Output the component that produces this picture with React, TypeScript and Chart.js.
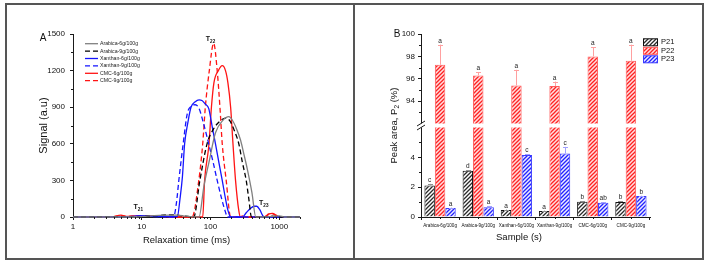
import React, { useEffect, useRef } from 'react';
import { Chart, registerables, LinearScale } from 'chart.js';

Chart.register(...registerables);

const FONT = "'Liberation Sans', Arial, Helvetica, sans-serif";
const AXIS = '#1a1a1a';

/* ---------------- Panel A: T2 relaxation spectra ---------------- */
const arabica6T = [1, 8, 12, 18, 25, 32, 40, 50, 60, 68, 80, 95, 118, 150, 185, 207, 240, 273, 310, 345, 400, 455, 600, 800, 1000, 1200, 2000];
const arabica6S = [0, 0, 8, 14, 16, 15, 10, 3, 0, 0, 250, 450, 690, 790, 822, 795, 720, 631, 500, 385, 200, 0, 0, 5, 10, 0, 0];

const arabica9T = [1, 8, 12, 18, 25, 32, 40, 50, 57, 70, 89, 110, 140, 165, 190, 225, 258, 290, 330, 360, 394, 600, 800, 1000, 2000];
const arabica9S = [0, 0, 6, 12, 18, 15, 8, 2, 0, 300, 600, 720, 790, 810, 790, 700, 600, 450, 300, 150, 0, 0, 6, 0, 0];

const xanthan6T = [1, 6, 8, 10, 12, 15, 20, 30, 33, 36, 39, 42, 47, 52, 60, 68, 75, 84, 94, 105, 118, 133, 148, 165, 180, 196, 290, 330, 380, 430, 470, 520, 570, 600, 2000];
const xanthan6S = [0, 0, 8, 12, 10, 5, 3, 2, 5, 150, 330, 600, 780, 900, 945, 960, 955, 925, 890, 750, 600, 440, 300, 150, 50, 0, 0, 35, 70, 88, 88, 60, 15, 0, 0];

const xanthan9T = [1, 6, 10, 15, 20, 29, 32, 34.6, 40, 46, 53, 60, 68, 78, 94, 110, 125, 145, 165, 176, 2000];
const xanthan9S = [0, 0, 5, 4, 3, 0, 120, 300, 600, 850, 910, 920, 890, 780, 600, 440, 300, 150, 40, 0, 0];

const cmc6T = [1, 3.5, 5, 6, 8, 10, 15, 20, 30, 60, 77, 82, 95, 103, 112, 130, 148, 165, 179, 196, 212, 231, 258, 273, 290, 310, 600, 700, 800, 900, 1000, 2000];
const cmc6S = [0, 0, 15, 5, 10, 10, 8, 5, 0, 0, 0, 300, 600, 900, 1100, 1200, 1240, 1200, 1100, 900, 600, 300, 50, 0, 10, 0, 0, 25, 30, 15, 0, 0];

const cmc9T = [1, 3.5, 5, 6, 8, 10, 15, 20, 30, 54, 67.5, 77, 84, 96, 111, 125, 137, 148, 169, 196, 600, 700, 800, 900, 1000, 2000];
const cmc9S = [0, 0, 12, 5, 8, 10, 8, 5, 0, 0, 300, 600, 900, 1200, 1424, 1200, 900, 600, 300, 0, 0, 20, 25, 10, 0, 0];

const relaxTicks = [1, 10, 100, 1000];
const signalTicks = [0, 300, 600, 900, 1200, 1500];
const signalMinor = [150, 450, 750, 1050, 1350];

const spectra = [
  { label: 'Arabica-6g/100g', t: arabica6T, s: arabica6S, color: '#808080', dash: [] as number[] },
  { label: 'Arabica-9g/100g', t: arabica9T, s: arabica9S, color: '#000000', dash: [5, 3] },
  { label: 'Xanthan-6g/100g', t: xanthan6T, s: xanthan6S, color: '#1414ff', dash: [] as number[] },
  { label: 'Xanthan-9g/100g', t: xanthan9T, s: xanthan9S, color: '#1414ff', dash: [5, 3] },
  { label: 'CMC-6g/100g', t: cmc6T, s: cmc6S, color: '#ff1414', dash: [] as number[] },
  { label: 'CMC-9g/100g', t: cmc9T, s: cmc9S, color: '#ff1414', dash: [5, 3] },
];

// peak annotations in data coordinates (relaxation time, signal)
const peakNames = ['21', '22', '23'];
const peakTimes = [8.9, 100, 594];
const peakSignals = [82, 1460, 115];

/* ---------------- Panel B: peak areas ---------------- */
const samples = ['Arabica-6g/100g', 'Arabica-9g/100g', 'Xanthan-6g/100g', 'Xanthan-9g/100g', 'CMC-6g/100g', 'CMC-9g/100g'];
const p21 = [2.12, 3.1, 0.47, 0.4, 1.03, 1.0];
const p22 = [97.25, 96.3, 95.4, 95.35, 98.0, 97.6];
const p23 = [0.6, 0.66, 4.15, 4.25, 0.95, 1.4];
const p21Err = [0.1, 0.05, 0.03, 0.03, 0.03, 0.05];
const p22Err = [1.8, 0.3, 1.4, 0.4, 0.8, 1.45];
const p23Err = [0.03, 0.08, 0.05, 0.45, 0.03, 0.03];
const p21Letters = ['c', 'd', 'a', 'a', 'b', 'b'];
const p22Letters = ['a', 'a', 'a', 'a', 'a', 'a'];
const p23Letters = ['a', 'a', 'c', 'c', 'ab', 'b'];
const peakTicks = [0, 2, 4, 94, 96, 98, 100];
const peakMinor = [1, 3, 5, 93, 95, 97, 99];
const breakLow = 6;
const breakHigh = 92;
const gapPx = 4;

// Linear scale with a break between breakLow and breakHigh; both halves get equal height.
class BrokenLinearScale extends LinearScale {
  static id = 'brokenLinear';
  getPixelForValue(value: number) {
    const seg = (this.bottom - this.top - gapPx) / 2;
    if (value <= breakLow) return this.bottom - ((value - this.min) / (breakLow - this.min)) * seg;
    if (value >= breakHigh) return this.top + ((this.max - value) / (this.max - breakHigh)) * seg;
    const lowTop = this.bottom - seg;
    return lowTop - ((value - breakLow) / (breakHigh - breakLow)) * gapPx;
  }
  getValueForPixel(pixel: number) {
    const seg = (this.bottom - this.top - gapPx) / 2;
    const lowTop = this.bottom - seg;
    const highBottom = this.top + seg;
    if (pixel >= lowTop) return this.min + ((this.bottom - pixel) / seg) * (breakLow - this.min);
    if (pixel <= highBottom) return this.max - ((pixel - this.top) / seg) * (this.max - breakHigh);
    return breakLow + ((lowTop - pixel) / gapPx) * (breakHigh - breakLow);
  }
}
Chart.register(BrokenLinearScale);

function hatch(bg: string, fg: string) {
  const c = document.createElement('canvas');
  c.width = 4;
  c.height = 4;
  const g = c.getContext('2d')!;
  g.fillStyle = bg;
  g.fillRect(0, 0, 4, 4);
  g.strokeStyle = fg;
  g.lineWidth = 1.3;
  g.beginPath();
  g.moveTo(0, 4);
  g.lineTo(4, 0);
  g.moveTo(-1, 1);
  g.lineTo(1, -1);
  g.moveTo(3, 5);
  g.lineTo(5, 3);
  g.stroke();
  return g.createPattern(c, 'repeat')!;
}

const panelAExtras = {
  id: 'panelAExtras',
  afterDraw(chart: any) {
    const { ctx, chartArea: ca, scales } = chart;
    const x = scales.x;
    const y = scales.y;
    ctx.save();
    // minor ticks
    ctx.strokeStyle = AXIS;
    ctx.lineWidth = 1;
    ctx.beginPath();
    for (const v of signalMinor) {
      const py = Math.round(y.getPixelForValue(v)) + 0.5;
      ctx.moveTo(ca.left, py);
      ctx.lineTo(ca.left - 2, py);
    }
    for (let d = 1; d < 2000; d *= 10) {
      for (let k = 2; k <= 9; k++) {
        const v = d * k;
        if (v > 2000) break;
        const px = Math.round(x.getPixelForValue(v)) + 0.5;
        ctx.moveTo(px, ca.bottom);
        ctx.lineTo(px, ca.bottom + 2);
      }
    }
    ctx.stroke();

    // legend
    const lx0 = ca.left + 12;
    const lx1 = lx0 + 13;
    chart.data.datasets.forEach((ds: any, i: number) => {
      const ly = ca.top + 9.7 + i * 7.4;
      ctx.strokeStyle = ds.borderColor;
      ctx.lineWidth = 1.3;
      ctx.setLineDash(ds.borderDash || []);
      ctx.beginPath();
      ctx.moveTo(lx0, ly);
      ctx.lineTo(lx1, ly);
      ctx.stroke();
      ctx.setLineDash([]);
      ctx.fillStyle = '#222';
      ctx.font = `5.2px ${FONT}`;
      ctx.textAlign = 'left';
      ctx.textBaseline = 'middle';
      ctx.fillText(ds.label, lx1 + 2, ly);
    });

    // peak annotations
    peakNames.forEach((sub, i) => {
      const px = x.getPixelForValue(peakTimes[i]);
      const py = y.getPixelForValue(peakSignals[i]);
      ctx.font = `bold 7px ${FONT}`;
      const wT = ctx.measureText('T').width;
      ctx.font = `bold 4.6px ${FONT}`;
      const wS = ctx.measureText(sub).width;
      const x0 = px - (wT + wS) / 2;
      ctx.fillStyle = '#111';
      ctx.textAlign = 'left';
      ctx.textBaseline = 'alphabetic';
      ctx.font = `bold 7px ${FONT}`;
      ctx.fillText('T', x0, py + 2.5);
      ctx.font = `bold 4.6px ${FONT}`;
      ctx.fillText(sub, x0 + wT, py + 4);
    });

    // panel letter
    ctx.fillStyle = '#111';
    ctx.font = `10px ${FONT}`;
    ctx.textAlign = 'center';
    ctx.textBaseline = 'middle';
    ctx.fillText('A', ca.left - 30, ca.top + 4);
    ctx.restore();
  },
};

const panelBExtras = {
  id: 'panelBExtras',
  afterDatasetsDraw(chart: any) {
    const { ctx, chartArea: ca, scales } = chart;
    const y = scales.y;
    const yLow = y.getPixelForValue(breakLow);
    const yHigh = y.getPixelForValue(breakHigh);
    ctx.save();
    // axis break
    ctx.fillStyle = '#fff';
    ctx.fillRect(ca.left - 1, yHigh, ca.right - ca.left + 2, yLow - yHigh);
    const ym = (yLow + yHigh) / 2;
    ctx.strokeStyle = AXIS;
    ctx.lineWidth = 1;
    ctx.beginPath();
    for (const dy of [-2, 2]) {
      ctx.moveTo(ca.left - 4, ym + dy + 2.5);
      ctx.lineTo(ca.left + 4, ym + dy - 2.5);
    }
    ctx.stroke();

    // error bars and significance letters
    const groups = [
      { values: p21, errs: p21Err, marks: p21Letters, errColor: '#8f8f8f' },
      { values: p22, errs: p22Err, marks: p22Letters, errColor: '#ffa0a0' },
      { values: p23, errs: p23Err, marks: p23Letters, errColor: '#a0a0ff' },
    ];
    groups.forEach((g, di) => {
      const meta = chart.getDatasetMeta(di);
      meta.data.forEach((bar: any, j: number) => {
        const top = y.getPixelForValue(g.values[j] + g.errs[j]);
        const bx = Math.round(bar.x) + 0.5;
        ctx.strokeStyle = g.errColor;
        ctx.lineWidth = 1;
        ctx.beginPath();
        ctx.moveTo(bx, bar.y);
        ctx.lineTo(bx, top);
        ctx.moveTo(bx - 2.5, Math.round(top) + 0.5);
        ctx.lineTo(bx + 2.5, Math.round(top) + 0.5);
        ctx.stroke();
        ctx.fillStyle = '#222';
        ctx.font = `6.5px ${FONT}`;
        ctx.textAlign = 'center';
        ctx.textBaseline = 'alphabetic';
        ctx.fillText(g.marks[j], bar.x, top - 2);
      });
    });
    ctx.restore();
  },
  afterDraw(chart: any) {
    const { ctx, chartArea: ca, scales } = chart;
    const y = scales.y;
    const x = scales.x;
    ctx.save();
    // minor ticks
    ctx.strokeStyle = AXIS;
    ctx.lineWidth = 1;
    ctx.beginPath();
    for (const v of peakMinor) {
      const py = Math.round(y.getPixelForValue(v)) + 0.5;
      ctx.moveTo(ca.left, py);
      ctx.lineTo(ca.left - 2, py);
    }
    for (let i = 0; i < samples.length; i++) {
      const px = Math.round(x.getPixelForValue(i)) + 0.5;
      ctx.moveTo(px, ca.bottom);
      ctx.lineTo(px, ca.bottom + 2);
    }
    ctx.stroke();

    // legend
    chart.data.datasets.forEach((ds: any, i: number) => {
      const ly = ca.top + 8.3 + i * 8.5;
      const bx = ca.right - 7;
      ctx.fillStyle = ds.backgroundColor;
      ctx.fillRect(bx, ly - 3.5, 15, 7);
      ctx.strokeStyle = ds.borderColor;
      ctx.lineWidth = 1;
      ctx.strokeRect(bx + 0.5, ly - 3.5, 14, 7);
      ctx.fillStyle = '#111';
      ctx.font = `7.5px ${FONT}`;
      ctx.textAlign = 'left';
      ctx.textBaseline = 'middle';
      ctx.fillText(ds.label, bx + 18, ly);
    });

    // axis titles
    ctx.fillStyle = '#111';
    ctx.font = `9.5px ${FONT}`;
    ctx.textAlign = 'center';
    ctx.textBaseline = 'middle';
    ctx.fillText('Sample (s)', ca.left + 98, 237);

    ctx.translate(38, (ca.top + ca.bottom) / 2);
    ctx.rotate(-Math.PI / 2);
    const a = 'Peak area, P';
    const s = '2';
    const b = ' (%)';
    ctx.font = `9.5px ${FONT}`;
    const wa = ctx.measureText(a).width;
    const wb = ctx.measureText(b).width;
    ctx.font = `6.5px ${FONT}`;
    const ws = ctx.measureText(s).width;
    let cx = -(wa + ws + wb) / 2;
    ctx.textAlign = 'left';
    ctx.textBaseline = 'alphabetic';
    ctx.font = `9.5px ${FONT}`;
    ctx.fillText(a, cx, 3.5);
    cx += wa;
    ctx.font = `6.5px ${FONT}`;
    ctx.fillText(s, cx, 5.5);
    cx += ws;
    ctx.font = `9.5px ${FONT}`;
    ctx.fillText(b, cx, 3.5);
    ctx.setTransform(1, 0, 0, 1, 0, 0);

    ctx.font = `10px ${FONT}`;
    ctx.textAlign = 'center';
    ctx.textBaseline = 'middle';
    ctx.fillText('B', ca.left - 24, ca.top);
    ctx.restore();
  },
};

function RelaxationChart() {
  const ref = useRef<HTMLCanvasElement>(null);
  useEffect(() => {
    const chart = new Chart(ref.current!, {
      type: 'line',
      data: {
        datasets: spectra.map((s) => ({
          label: s.label,
          data: s.t.map((t, i) => ({ x: t, y: s.s[i] })),
          borderColor: s.color,
          borderDash: s.dash,
          borderWidth: 1.3,
          pointRadius: 0,
          fill: false,
          cubicInterpolationMode: 'monotone' as const,
          clip: false as any,
        })),
      },
      options: {
        animation: false,
        responsive: false,
        maintainAspectRatio: false,
        layout: { padding: { left: 0, top: 34, right: 54, bottom: 0 } },
        plugins: { legend: { display: false }, tooltip: { enabled: false } },
        scales: {
          x: {
            type: 'logarithmic',
            min: 1,
            max: 2000,
            afterBuildTicks: (sc: any) => {
              sc.ticks = relaxTicks.map((v) => ({ value: v }));
            },
            afterFit: (sc: any) => {
              sc.height = 49;
            },
            ticks: { callback: (v: any) => String(v), font: { family: FONT, size: 8 }, color: '#111', padding: 2, maxRotation: 0, autoSkip: false },
            grid: { display: true, drawOnChartArea: false, drawTicks: true, tickLength: 3, color: AXIS },
            border: { display: true, color: AXIS, width: 1 },
            title: { display: true, text: 'Relaxation time (ms)', font: { family: FONT, size: 9.5 }, color: '#111', padding: { top: 0, bottom: 20 } },
          },
          y: {
            type: 'linear',
            min: 0,
            max: 1500,
            afterBuildTicks: (sc: any) => {
              sc.ticks = signalTicks.map((v) => ({ value: v }));
            },
            afterFit: (sc: any) => {
              sc.width = 73;
            },
            ticks: { callback: (v: any) => String(v), font: { family: FONT, size: 8 }, color: '#111', padding: 5 },
            grid: { display: true, drawOnChartArea: false, drawTicks: true, tickLength: 3, color: AXIS },
            border: { display: true, color: AXIS, width: 1 },
            title: { display: true, text: 'Signal (a.u)', font: { family: FONT, size: 11 }, color: '#111', padding: { top: 37, bottom: 0 } },
          },
        },
      },
      plugins: [panelAExtras],
    } as any);
    return () => chart.destroy();
  }, []);
  return <canvas ref={ref} width={354} height={266} style={{ position: 'absolute', left: 0, top: 0, width: 354, height: 266 }} />;
}

function PeakAreaChart() {
  const ref = useRef<HTMLCanvasElement>(null);
  useEffect(() => {
    const fills = {
      p21: hatch('#ffffff', '#2a2a2a'),
      p22: hatch('#ffdede', '#ff2222'),
      p23: hatch('#ececff', '#2222ff'),
    };
    const chart = new Chart(ref.current!, {
      type: 'bar',
      data: {
        labels: samples,
        datasets: [
          { label: 'P21', data: p21, backgroundColor: fills.p21, borderColor: '#111111', borderWidth: 1 },
          { label: 'P22', data: p22, backgroundColor: fills.p22, borderColor: '#ff5a5a', borderWidth: 1 },
          { label: 'P23', data: p23, backgroundColor: fills.p23, borderColor: '#3a3aff', borderWidth: 1 },
        ],
      },
      options: {
        animation: false,
        responsive: false,
        maintainAspectRatio: false,
        layout: { padding: { left: 0, top: 34, right: 58, bottom: 0 } },
        datasets: { bar: { categoryPercentage: 0.82, barPercentage: 1.0 } },
        plugins: { legend: { display: false }, tooltip: { enabled: false } },
        scales: {
          x: {
            type: 'category',
            offset: true,
            afterFit: (sc: any) => {
              sc.height = 49;
            },
            ticks: { font: { family: FONT, size: 4.6 }, color: '#111', padding: 3, maxRotation: 0, autoSkip: false },
            grid: { display: true, offset: true, drawOnChartArea: false, drawTicks: true, tickLength: 3, color: AXIS },
            border: { display: true, color: AXIS, width: 1 },
          },
          y: {
            type: 'brokenLinear',
            min: 0,
            max: 100,
            afterBuildTicks: (sc: any) => {
              sc.ticks = peakTicks.map((v) => ({ value: v }));
            },
            afterFit: (sc: any) => {
              sc.width = 66;
            },
            ticks: { callback: (v: any) => String(v), font: { family: FONT, size: 8 }, color: '#111', padding: 3 },
            grid: { display: true, drawOnChartArea: false, drawTicks: true, tickLength: 3, color: AXIS },
            border: { display: true, color: AXIS, width: 1 },
          },
        },
      },
      plugins: [panelBExtras],
    } as any);
    return () => chart.destroy();
  }, []);
  return <canvas ref={ref} width={353} height={266} style={{ position: 'absolute', left: 355, top: 0, width: 353, height: 266 }} />;
}

export default function App() {
  return (
    <div style={{ position: 'absolute', left: 0, top: 0, width: 708, height: 266, background: '#ffffff', overflow: 'hidden' }}>
      <RelaxationChart />
      <PeakAreaChart />
      <div style={{ position: 'absolute', left: 5, top: 3, width: 699, height: 257, border: '2px solid #555555', boxSizing: 'border-box', pointerEvents: 'none' }} />
      <div style={{ position: 'absolute', left: 353, top: 3, width: 2, height: 257, background: '#555555', pointerEvents: 'none' }} />
    </div>
  );
}
